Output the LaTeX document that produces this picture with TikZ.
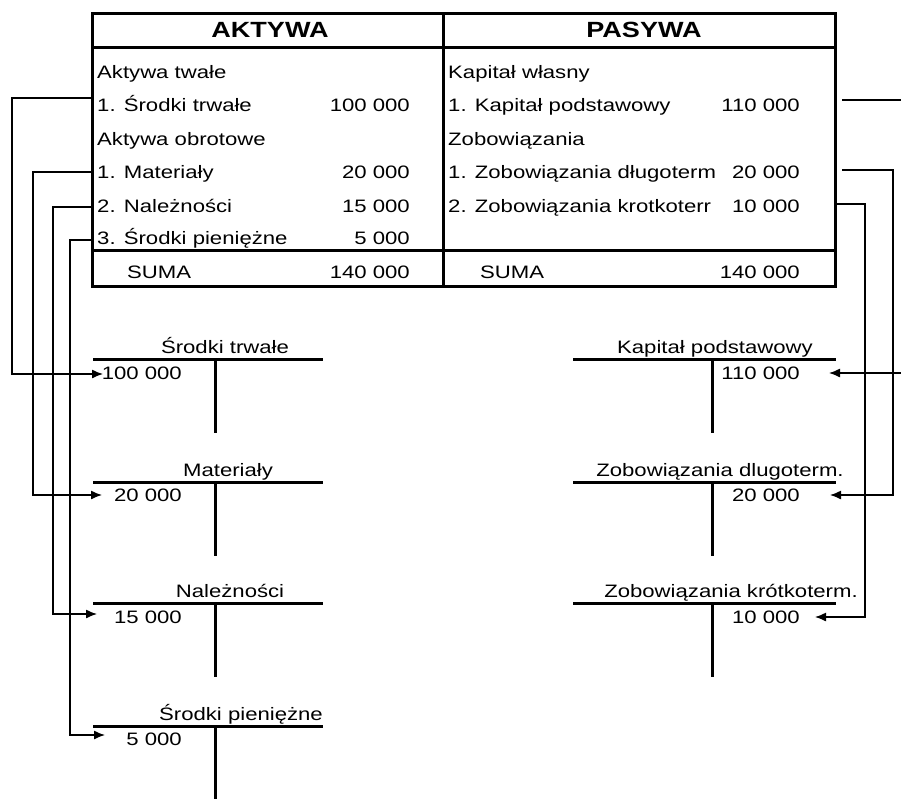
\documentclass[tikz,border=0pt]{standalone}
\usepackage{fontspec}
\setmainfont{Liberation Sans}[FakeStretch=1.23]
\usetikzlibrary{arrows.meta}
\begin{document}
\begin{tikzpicture}[x=1pt,y=-1pt,
  txt/.style={inner sep=0pt,font=\fontsize{18}{20}\selectfont},
  hdr/.style={inner sep=0pt,font=\fontsize{22}{24}\selectfont\bfseries},
  frame/.style={line width=3pt},
  tline/.style={line width=3pt},
  conn/.style={line width=1.3pt},
  arr/.style={conn,-{Latex[length=11pt,width=9pt]}}]
\useasboundingbox (0,0) rectangle (901,798);

% ---- balance table ----
\draw[frame] (92,13) rectangle (835,286);
\draw[frame] (92,47) -- (835,47);
\draw[frame] (92,250) -- (835,250);
\draw[frame] (443,13) -- (443,286);

\node[hdr] (hA) at (270,30) {AKTYWA};
\node[hdr] (hP) at (644,30) {PASYWA};

\node[txt,anchor=base west] (a0) at (97,78) {Aktywa twałe};
\node[txt,anchor=base west] (a1) at (97,111) {1. Środki trwałe};
\node[txt,anchor=base east] (a1v) at (410,111) {100 000};
\node[txt,anchor=base west] (a2) at (97,145) {Aktywa obrotowe};
\node[txt,anchor=base west] (a3) at (97,178) {1. Materiały};
\node[txt,anchor=base east] (a3v) at (410,178) {20 000};
\node[txt,anchor=base west] (a4) at (97,212) {2. Należności};
\node[txt,anchor=base east] (a4v) at (410,212) {15 000};
\node[txt,anchor=base west] (a5) at (97,244) {3. Środki pieniężne};
\node[txt,anchor=base east] (a5v) at (410,244) {5 000};
\node[txt,anchor=base west] (as) at (127,278) {SUMA};
\node[txt,anchor=base east] (asv) at (410,278) {140 000};

\node[txt,anchor=base west] (p0) at (448,78) {Kapitał własny};
\node[txt,anchor=base west] (p1) at (448,111) {1. Kapitał podstawowy};
\node[txt,anchor=base east] (p1v) at (800,111) {110 000};
\node[txt,anchor=base west] (p2) at (448,145) {Zobowiązania};
\node[txt,anchor=base west] (p3) at (448,178) {1. Zobowiązania długoterm};
\node[txt,anchor=base east] (p3v) at (800,178) {20 000};
\node[txt,anchor=base west] (p4) at (448,212) {2. Zobowiązania krotkoterr};
\node[txt,anchor=base east] (p4v) at (800,212) {10 000};
\node[txt,anchor=base west] (ps) at (480,278) {SUMA};
\node[txt,anchor=base east] (psv) at (800,278) {140 000};

% ---- T accounts, left ----
\draw[tline] (93,359) -- (323,359);  \draw[tline] (215,359) -- (215,433);
\draw[tline] (93,482) -- (323,482);  \draw[tline] (215,482) -- (215,556);
\draw[tline] (93,603) -- (323,603);  \draw[tline] (215,603) -- (215,677);
\draw[tline] (93,726) -- (323,726);  \draw[tline] (215,726) -- (215,800);

\node[txt,anchor=base] (t1) at (225,353) {Środki trwałe};
\node[txt,anchor=base] (t2) at (228,476) {Materiały};
\node[txt,anchor=base] (t3) at (230,597) {Należności};
\node[txt,anchor=base] (t4) at (241,720) {Środki pieniężne};
\node[txt,anchor=base east] (v1) at (182,379) {100 000};
\node[txt,anchor=base east] (v2) at (182,501) {20 000};
\node[txt,anchor=base east] (v3) at (182,623) {15 000};
\node[txt,anchor=base east] (v4) at (182,745) {5 000};

% ---- T accounts, right ----
\draw[tline] (573,359) -- (836,359);  \draw[tline] (712,359) -- (712,433);
\draw[tline] (573,482) -- (836,482);  \draw[tline] (712,482) -- (712,556);
\draw[tline] (573,603) -- (836,603);  \draw[tline] (712,603) -- (712,677);

\node[txt,anchor=base] (r1) at (715,353) {Kapitał podstawowy};
\node[txt,anchor=base] (r2) at (720,476) {Zobowiązania dlugoterm.};
\node[txt,anchor=base] (r3) at (731,597) {Zobowiązania krótkoterm.};
\node[txt,anchor=base east] (w1) at (800,379) {110 000};
\node[txt,anchor=base east] (w2) at (800,501) {20 000};
\node[txt,anchor=base east] (w3) at (800,623) {10 000};

% ---- connector end points ----
\coordinate (s1) at (92,98);   \coordinate (e1) at (103,374);
\coordinate (s2) at (92,172);  \coordinate (e2) at (102,495);
\coordinate (s3) at (92,207);  \coordinate (e3) at (97,614);
\coordinate (s4) at (92,240);  \coordinate (e4) at (105,735);
\coordinate (q1) at (842,100); \coordinate (f1) at (829,373);
\coordinate (q2) at (842,170); \coordinate (f2) at (830,495);
\coordinate (q3) at (835,204); \coordinate (f3) at (815,617);

\draw[arr] (s1) -- (12,98) |- (e1);
\draw[arr] (s2) -- (33,172) |- (e2);
\draw[arr] (s3) -- (53,207) |- (e3);
\draw[arr] (s4) -- (70,240) |- (e4);
\draw[arr] (q1) -- (903,100) |- (f1);
\draw[arr] (q2) -- (893,170) |- (f2);
\draw[arr] (q3) -- (865,204) |- (f3);
\end{tikzpicture}
\end{document}
